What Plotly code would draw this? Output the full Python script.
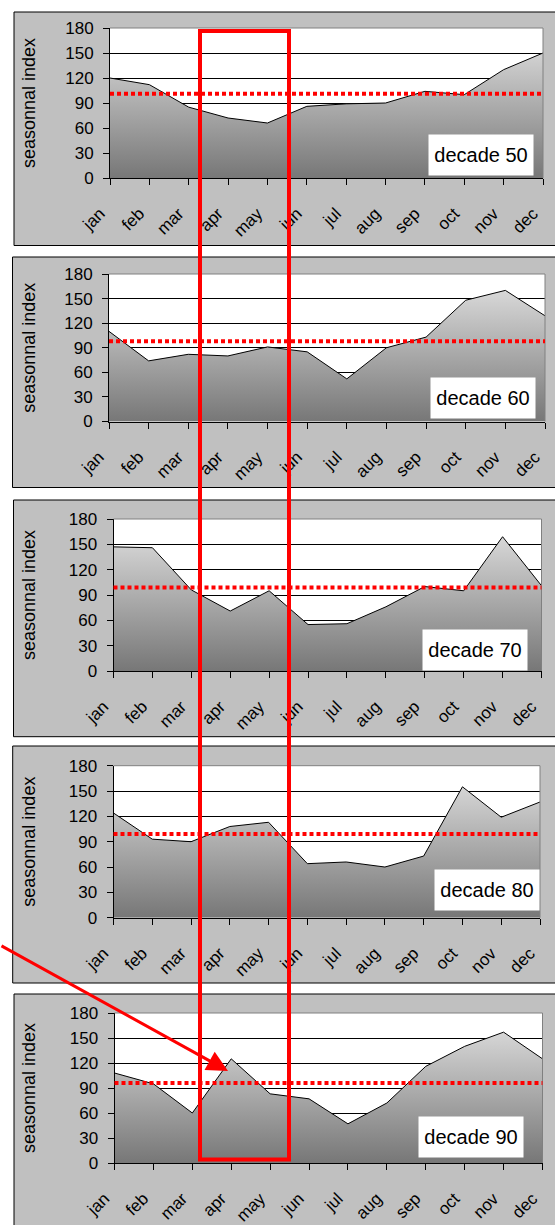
import plotly.graph_objects as go

# ---------------- data ----------------
months = ["jan", "feb", "mar", "apr", "may", "jun", "jul", "aug", "sep", "oct", "nov", "dec"]
decade_labels = ["decade 50", "decade 60", "decade 70", "decade 80", "decade 90"]
index_50 = [120, 112, 85, 72, 66, 86, 89, 90, 104, 100, 130, 150]
index_60 = [110, 74, 82, 80, 91, 85, 52, 90, 103, 148, 160, 129]
index_70 = [147, 146, 96, 71, 95, 55, 56, 76, 100, 95, 159, 101]
index_80 = [124, 93, 90, 108, 113, 64, 66, 60, 73, 155, 119, 137]
index_90 = [108, 95, 60, 125, 83, 77, 47, 72, 116, 140, 157, 125]
avg_levels = [101, 98, 99, 99, 96]
y_ticks = [0, 30, 60, 90, 120, 150, 180]
series = [index_50, index_60, index_70, index_80, index_90]

# ---------------- layout (pixels) ----------------
W, H = 555, 1225
FONT = "Liberation Sans, Arial, sans-serif"
# plot areas: (x0, x1, ytop, ybottom)
plot_px = [
    (110, 543, 28, 178),
    (109, 545, 274, 421.5),
    (113.5, 541.5, 519, 671),
    (113.5, 540, 765.7, 917.7),
    (114.5, 542.5, 1013, 1163),
]
# panel boxes: (x0, ytop, ybottom)
panel_px = [
    (14, 12, 245.5),
    (12.5, 257, 487.5),
    (13.5, 500, 736.7),
    (12.7, 746, 983),
    (14, 994, 1228),
]
# label boxes centers
label_px = [(481, 155.5), (482.5, 398), (475, 650), (487, 890.5), (471, 1137)]


def fx(px):
    return px / W


def fy(py):
    return 1 - py / H


fig = go.Figure()
shapes = []
annotations = []
layout = dict(
    width=W, height=H, autosize=False,
    margin=dict(l=0, r=0, t=0, b=0, pad=0, autoexpand=False),
    paper_bgcolor="white",
    plot_bgcolor="rgba(0,0,0,0)",
    showlegend=False,
    font=dict(family=FONT, color="black"),
)

# panel backgrounds first, then white plot areas
for (bx0, bt, bb) in panel_px:
    shapes.append(dict(type="rect", xref="paper", yref="paper",
                       x0=fx(bx0), x1=fx(W + 10), y0=fy(bb), y1=fy(bt),
                       fillcolor="#C0C0C0", line=dict(color="black", width=1),
                       layer="below"))
for (x0, x1, yt, yb) in plot_px:
    shapes.append(dict(type="rect", xref="paper", yref="paper",
                       x0=fx(x0), x1=fx(x1), y0=fy(yb), y1=fy(yt),
                       fillcolor="white", line=dict(width=0), layer="below"))

for i, vals in enumerate(series):
    n = i + 1
    xa = "x" if n == 1 else f"x{n}"
    ya = "y" if n == 1 else f"y{n}"
    xkey = "xaxis" if n == 1 else f"xaxis{n}"
    ykey = "yaxis" if n == 1 else f"yaxis{n}"
    x0, x1, yt, yb = plot_px[i]

    fig.add_trace(go.Scatter(
        x=months, y=vals, xaxis=xa, yaxis=ya, mode="lines",
        line=dict(color="black", width=1),
        fill="tozeroy",
        fillgradient=dict(type="vertical",
                          colorscale=[[0, "#777777"], [1, "#e4e4e4"]],
                          start=0, stop=180),
        hoverinfo="skip",
    ))

    layout[xkey] = dict(
        domain=[fx(x0), fx(x1)], anchor=ya,
        type="category", categoryorder="array", categoryarray=months,
        range=[0, len(months) - 1],
        showgrid=False, zeroline=False,
        showline=True, linecolor="black", linewidth=1,
        ticks="outside", ticklen=6, tickcolor="black", tickwidth=1,
        tickangle=-45, tickfont=dict(size=17, family=FONT, color="black"),
        ticklabelshift=-10, ticklabelstandoff=12,
        automargin=False, fixedrange=True,
    )
    layout[ykey] = dict(
        domain=[fy(yb), fy(yt)], anchor=xa,
        range=[0, 180], tickvals=y_ticks,
        showgrid=True, gridcolor="black", gridwidth=1,
        zeroline=False,
        showline=True, linecolor="black", linewidth=1,
        ticks="outside", ticklen=6, tickcolor="black", tickwidth=1,
        ticklabelstandoff=6,
        tickfont=dict(size=17, family=FONT, color="black"),
        automargin=False, fixedrange=True,
    )

    dom_x = f"{xa} domain"
    dom_y = f"{ya} domain"
    # gray top/right border of plot area
    shapes.append(dict(type="line", xref=dom_x, yref=dom_y, x0=0, x1=1, y0=1, y1=1,
                       line=dict(color="#808080", width=1), layer="above"))
    shapes.append(dict(type="line", xref=dom_x, yref=dom_y, x0=1, x1=1, y0=0, y1=1,
                       line=dict(color="#808080", width=1), layer="above"))
    # red dotted average line
    shapes.append(dict(type="line", xref=dom_x, yref=ya, x0=0, x1=1,
                       y0=avg_levels[i], y1=avg_levels[i],
                       line=dict(color="#ff0000", width=4, dash="4px,3px"),
                       layer="above"))

    # y-axis title
    annotations.append(dict(text="seasonnal index", xref="paper", yref="paper",
                            x=fx(29), y=fy((yt + yb) / 2), textangle=-90,
                            xanchor="center", yanchor="middle", showarrow=False,
                            font=dict(size=18, family=FONT, color="black")))
    # decade label box
    lx, ly = label_px[i]
    annotations.append(dict(text=decade_labels[i], xref="paper", yref="paper",
                            x=fx(lx), y=fy(ly), xanchor="center", yanchor="middle",
                            width=104, height=40, bgcolor="white", borderpad=0,
                            showarrow=False,
                            font=dict(size=20, family=FONT, color="black")))

# big red rectangle across panels
shapes.append(dict(type="rect", xref="paper", yref="paper",
                   x0=fx(200), x1=fx(289), y0=fy(1159.5), y1=fy(31),
                   line=dict(color="#ff0000", width=4), layer="above"))

# red arrow
annotations.append(dict(text="", xref="paper", yref="paper",
                        x=fx(228), y=fy(1071), ax=-233, ay=-126,
                        showarrow=True, arrowhead=2, arrowsize=1.4,
                        arrowwidth=3, arrowcolor="#ff0000", standoff=0))

layout["shapes"] = shapes
layout["annotations"] = annotations
fig.update_layout(**layout)
fig.write_html("out.html")
